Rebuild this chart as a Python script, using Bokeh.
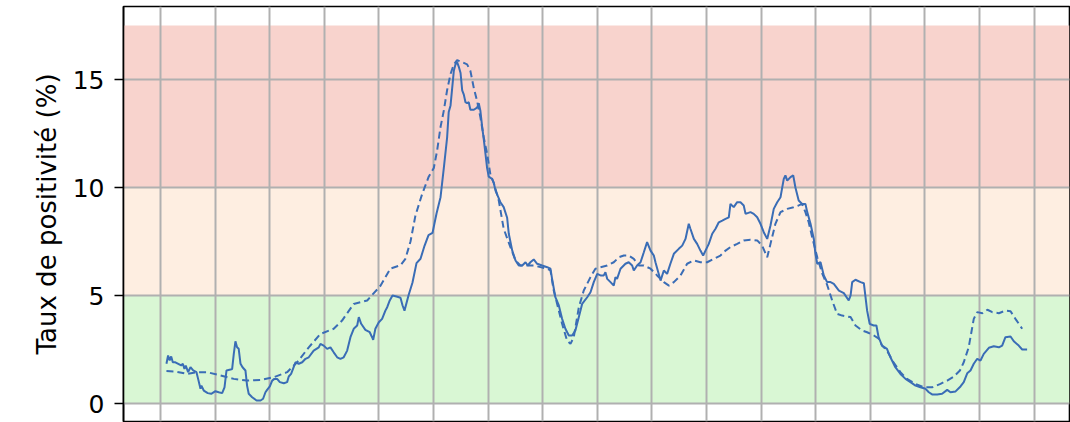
from bokeh.plotting import figure
from bokeh.models import Range1d, FixedTicker
from bokeh.embed import file_html
from bokeh.resources import INLINE

# ---- data (x = days from first grid tick, y = positivity %) ----
solid_day = [3.3, 4.2, 5.1, 5.9, 6.8, 8.2, 11.4, 12.3, 13.2, 13.9, 15.2, 16.5, 18.0, 19.8, 20.7, 22.0, 22.5, 23.8,
             26.0, 27.9, 30.2, 32.0, 33.9, 35.2, 36.3, 38.5, 39.4, 40.3, 41.2, 42.1, 43.0, 44.0, 45.1, 46.7, 47.6,
             48.5, 50.4, 52.8, 55.0, 56.4, 57.7, 58.6, 60.1, 61.4, 62.6, 64.1, 65.6, 67.8, 69.6, 70.5, 71.8, 73.2,
             74.2, 76.0, 77.9, 79.7, 81.5, 84.2, 87.0, 87.9, 89.7, 91.6, 93.4, 95.2, 97.1, 98.9, 100.7, 102.6,
             104.4, 106.2, 108.1, 109.0, 110.3, 112.6, 115.0, 116.3, 116.9, 118.1, 120.0, 121.8, 123.6, 124.6,
             126.0, 127.5, 129.7, 131.9, 133.0, 134.1, 136.3, 138.5, 140.7, 142.9, 145.1, 147.3, 149.5, 151.7,
             153.9, 155.7, 157.5, 158.4, 159.4, 160.3, 161.2, 162.1, 163.0, 163.9, 164.9, 165.8, 166.7, 167.6,
             168.5, 169.4, 170.3, 172.2, 174.0, 174.9, 175.8, 176.8, 177.7, 178.6, 179.5, 180.4, 182.2, 183.2,
             184.1, 186.8, 188.6, 190.5, 191.4, 193.3, 195.1, 196.9, 198.8, 200.6, 201.8, 203.3, 205.1, 207.0,
             209.7, 212.5, 214.3, 215.2, 217.0, 218.9, 220.7, 222.5, 224.4, 226.2, 228.0, 229.9, 231.7, 234.5,
             236.3, 238.1, 240.0, 241.8, 243.6, 244.5, 245.5, 247.3, 249.1, 250.0, 250.9, 252.8, 255.5, 257.3,
             259.2, 260.1, 261.9, 263.8, 265.6, 267.4, 269.3, 271.1, 272.0, 273.8, 274.8, 276.6, 278.4, 280.2,
             282.1, 284.8, 286.7, 288.5, 290.3, 291.2, 293.1, 294.9, 296.7, 298.2, 299.5, 301.3, 303.2, 305.0,
             306.8, 308.7, 310.5, 312.3, 313.2, 315.0, 316.9, 318.7, 320.5, 321.5, 324.2, 326.0, 327.9, 329.7,
             331.5, 333.4, 335.2, 337.0, 338.9, 340.7, 342.5, 343.4, 344.4, 346.2, 347.7, 348.9, 350.7, 352.6,
             354.4, 355.4, 357.2, 359.0, 359.9, 360.9, 362.7, 364.5, 366.3, 368.2, 370.0, 372.8, 375.5, 378.2,
             379.2, 380.1, 381.9, 384.7, 386.5, 388.3, 389.7, 391.9, 393.4, 394.6, 396.5, 399.2, 401.1, 403.8,
             406.6, 409.4, 412.1, 414.9, 417.6, 420.4, 422.2, 424.0, 426.8, 429.5, 432.3, 434.1, 436.9, 439.6,
             441.4, 443.3, 445.1, 446.9, 448.8, 450.6, 452.4, 455.2, 457.9, 460.7, 462.5, 464.3, 467.1, 468.9,
             471.6, 473.5, 476.2]
solid_val = [1.84, 2.22, 1.99, 2.18, 1.91, 1.91, 1.76, 1.84, 1.6, 1.76, 1.45, 1.68, 1.53, 1.45, 1.14, 0.68, 0.83, 0.6,
             0.48, 0.45, 0.57, 0.52, 0.48, 0.75, 1.53, 1.57, 1.6, 2.3, 2.88, 2.6, 2.53, 1.84, 1.68, 1.53, 0.83,
             0.45, 0.29, 0.14, 0.14, 0.22, 0.52, 0.63, 0.79, 1.06, 1.14, 1.14, 0.99, 0.94, 0.99, 1.25, 1.37, 1.68,
             1.91, 1.84, 1.91, 2.07, 2.14, 2.45, 2.6, 2.76, 2.68, 2.53, 2.6, 2.37, 2.14, 2.07, 2.14, 2.45,
             3.07, 3.46, 3.61, 4.0, 3.69, 3.41, 3.3, 3.07, 2.95, 3.46, 3.76, 3.92, 4.3, 4.46,
             4.77, 5.0, 4.95, 4.9, 4.55, 4.3, 5.0, 5.6, 6.5, 6.7, 7.3, 7.8, 7.9, 8.8,
             9.55, 10.9, 12.3, 13.5, 13.8, 14.6, 15.4, 15.7, 15.8, 15.6, 15.3, 14.5, 14.3, 13.95,
             13.9, 13.95, 13.6, 13.6, 13.7, 13.9, 13.55, 12.8, 12.2, 11.56, 10.9, 10.5, 10.4, 10.2,
             9.86, 9.32, 9.09, 8.6, 7.86, 7.08, 6.62, 6.39, 6.39, 6.54, 6.39, 6.54, 6.67, 6.47,
             6.39, 6.31, 6.24, 5.77, 4.92, 4.54, 3.92, 3.46, 3.15, 3.15, 3.38, 4.0, 4.61, 4.92,
             5.15, 5.62, 6.0, 5.93, 5.93, 6.08, 5.77, 5.62, 5.46, 5.85, 5.77, 6.24, 6.47, 6.54,
             6.39, 6.16, 6.39, 6.54, 7.0, 7.47, 7.08, 6.85, 6.54, 6.0, 5.69, 6.16, 6.0, 6.47,
             6.93, 7.16, 7.31, 7.62, 8.32, 8.09, 7.62, 7.39, 7.08, 6.85, 7.08, 7.39, 7.86, 8.09,
             8.39, 8.47, 8.55, 8.62, 9.24, 9.09, 9.32, 9.32, 9.17, 8.78, 8.86, 8.78, 8.62, 8.32,
             7.93, 7.62, 8.24, 9.01, 9.32, 9.55, 10.4, 10.56, 10.32, 10.48, 10.56, 10.0, 9.4, 9.24,
             9.24, 8.86, 8.32, 7.62, 6.93, 6.47, 6.54, 5.93, 5.62, 5.62, 5.54, 5.23, 5.11, 4.77,
             5.0, 5.62, 5.73, 5.62, 5.57, 4.3, 3.69, 3.61, 3.61, 3.07, 2.68, 2.53, 2.14, 1.68,
             1.37, 1.14, 0.99, 0.83, 0.75, 0.68, 0.52, 0.42, 0.42, 0.45, 0.63, 0.52, 0.56, 0.79,
             0.99, 1.4, 1.53, 1.84, 2.07, 1.99, 2.3, 2.58, 2.65, 2.6, 2.68, 3.07, 3.1, 2.88,
             2.68, 2.5, 2.5]

dashed_day = [3.3, 8.2, 14.7, 20.2, 25.7, 33.0, 40.3, 47.6, 55.0, 62.3, 69.6, 75.1, 81.5, 87.9, 95.2, 99.8,
              106.2, 113.6, 120.9, 126.4, 131.9, 134.6, 137.4, 140.1, 143.8, 145.6, 147.4, 150.2, 152.0, 153.9,
              155.7, 157.5, 159.4, 161.2, 163.0, 165.8, 168.5, 170.3, 172.2, 174.0, 175.8, 177.7, 179.5, 181.3,
              183.2, 185.9, 188.6, 192.3, 195.1, 197.8, 205.1, 212.5, 214.3, 216.1, 218.9, 220.7, 223.4, 225.3,
              227.1, 229.9, 232.6, 236.3, 239.0, 241.8, 245.5, 249.1, 251.9, 254.6, 257.3, 260.1, 262.8, 265.6,
              269.3, 272.9, 276.6, 279.4, 282.1, 285.8, 289.4, 293.1, 296.7, 300.4, 304.1, 307.7, 310.5, 313.2,
              316.9, 320.5, 324.2, 327.9, 330.6, 333.4, 335.2, 337.9, 340.7, 344.4, 347.9, 350.7, 352.6, 354.4,
              356.2, 358.1, 360.9, 363.7, 366.3, 369.1, 371.8, 374.6, 379.2, 381.9, 385.6, 388.3, 392.0, 394.7,
              396.5, 399.2, 402.8, 406.6, 410.2, 414.9, 419.4, 424.0, 428.6, 432.3, 436.0, 439.3, 441.4, 444.1,
              446.9, 448.8, 451.6, 454.4, 457.1, 460.7, 464.3, 467.1, 469.8, 473.5]
dashed_val = [1.5, 1.48, 1.37, 1.45, 1.45, 1.3, 1.14, 1.06, 1.09, 1.22, 1.45, 1.91, 2.6, 3.22, 3.46, 3.84,
              4.61, 4.77, 5.45, 6.25, 6.4, 6.7, 7.5, 8.7, 9.7, 10.1, 10.5, 10.9, 11.7, 12.8,
              13.56, 14.5, 15.26, 15.7, 15.9, 15.8, 15.7, 15.4, 14.6, 14.0, 13.25, 12.3, 11.56, 10.6,
              10.2, 9.4, 8.09, 7.24, 6.62, 6.39, 6.39, 6.24, 6.16, 5.23, 4.3, 3.69, 2.92, 2.76,
              3.07, 4.46, 5.23, 5.85, 6.24, 6.31, 6.39, 6.54, 6.77, 6.85, 6.85, 6.7, 6.39, 6.39,
              6.24, 5.93, 5.62, 5.46, 5.62, 5.93, 6.47, 6.62, 6.54, 6.54, 6.7, 6.85, 7.08, 7.24,
              7.39, 7.55, 7.58, 7.55, 7.31, 6.77, 7.39, 8.32, 8.86, 9.01, 9.09, 9.17, 9.24, 8.86,
              8.39, 7.7, 6.77, 6.0, 5.5, 4.77, 4.15, 4.07, 4.0, 3.61, 3.38, 3.3, 3.15, 3.0,
              2.68, 2.45, 1.91, 1.45, 1.14, 0.91, 0.75, 0.75, 0.91, 1.06, 1.25, 1.53, 1.91, 2.6,
              3.92, 4.23, 4.18, 4.34, 4.23, 4.18, 4.3, 4.27, 3.92, 3.46]

band_edges = [0, 5, 10, 17.5]
band_colors = ["#d9f7d4", "#feeee1", "#f8d3cd"]
x_ticks = list(range(0, 481, 30))
y_ticks = [0, 5, 10, 15]
y_label = "Taux de positivité (%)"

FONT = "DejaVu Sans"
BLUE = "#3a6db6"

x_range = Range1d(-20.3, 499.5)
y_range = Range1d(-0.833, 18.38)

p = figure(width=1070, height=422, output_backend="svg", toolbar_location=None,
           x_range=x_range, y_range=y_range, x_axis_location=None,
           min_border_left=123, min_border_right=1, min_border_top=6, min_border_bottom=1)
p.background_fill_color = "white"
p.border_fill_color = "white"
p.outline_line_color = "black"
p.outline_line_width = 1.6

# bands under the grid
p.quad(left=[x_range.start] * 3, right=[x_range.end] * 3,
       bottom=band_edges[:-1], top=band_edges[1:], fill_color=band_colors,
       line_color=None, level="image")

p.line(dashed_day, dashed_val, line_color=BLUE, line_width=2, line_dash="7 4")
p.line(solid_day, solid_val, line_color=BLUE, line_width=2)

p.xgrid.ticker = FixedTicker(ticks=x_ticks)
p.ygrid.ticker = FixedTicker(ticks=y_ticks)
for g in (p.xgrid, p.ygrid):
    g.grid_line_color = "#b0b0b0"
    g.grid_line_width = 2

ax = p.yaxis[0]
ax.ticker = FixedTicker(ticks=y_ticks)
ax.axis_label = y_label
ax.axis_label_text_font = FONT
ax.axis_label_text_font_size = "26px"
ax.axis_label_text_font_style = "normal"
ax.axis_label_text_color = "black"
ax.axis_label_standoff = 8
ax.major_label_text_font = FONT
ax.major_label_text_font_size = "25px"
ax.major_label_text_color = "black"
ax.major_label_standoff = 10
ax.major_tick_out = 9
ax.major_tick_in = 0
ax.major_tick_line_width = 1.6
ax.major_tick_line_color = "black"
ax.minor_tick_line_color = None
ax.axis_line_color = "black"
ax.axis_line_width = 1.6

open("out.html", "w").write(file_html(p, INLINE))
